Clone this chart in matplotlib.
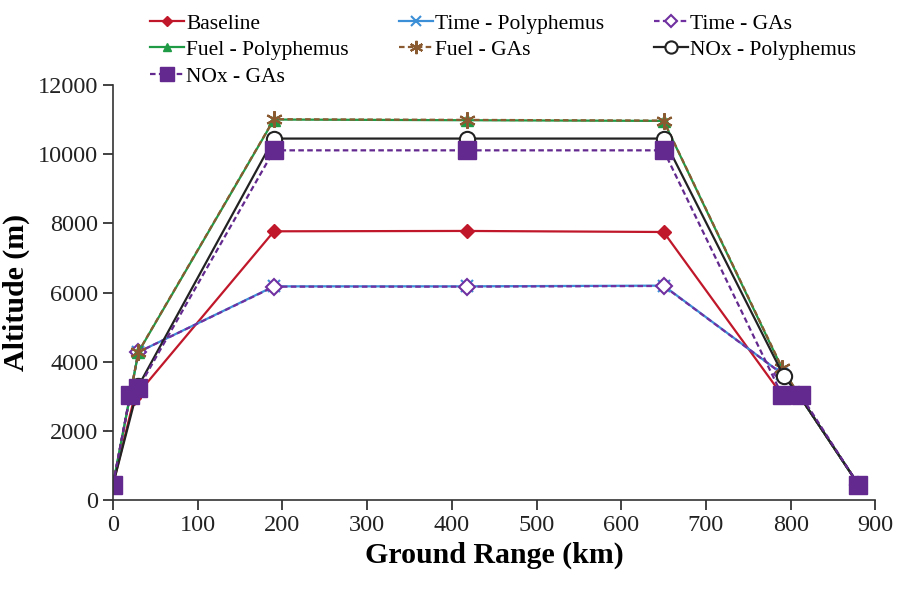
import matplotlib
matplotlib.use("Agg")
import matplotlib.pyplot as plt

# ground range (km) and altitude (m) per trajectory
x_base = [0, 25, 190, 418, 650, 790, 810, 880]
alt_base = [450, 2950, 7770, 7780, 7750, 3030, 3030, 450]

x_time_poly = [0, 30, 190, 418, 650, 790, 810, 880]
alt_time_poly = [450, 4280, 6180, 6180, 6200, 3650, 3030, 450]

x_time_gas = [0, 30, 190, 418, 650, 790, 810, 880]
alt_time_gas = [450, 4280, 6170, 6170, 6190, 3650, 3030, 450]

x_fuel_poly = [0, 30, 190, 418, 650, 790, 810, 880]
alt_fuel_poly = [450, 4280, 11000, 10980, 10960, 3800, 3030, 450]

x_fuel_gas = [0, 30, 190, 418, 650, 790, 810, 880]
alt_fuel_gas = [450, 4290, 11010, 10990, 10970, 3820, 3030, 450]

x_nox_poly = [0, 30, 190, 418, 650, 792, 810, 880]
alt_nox_poly = [450, 3300, 10450, 10450, 10450, 3580, 3030, 450]

x_nox_gas = [0, 20, 30, 190, 418, 650, 790, 812, 880]
alt_nox_gas = [450, 3030, 3240, 10110, 10110, 10110, 3030, 3030, 450]

plt.rcParams["font.family"] = ["Liberation Serif", "DejaVu Serif"]

fig = plt.figure(figsize=(9, 5.94), dpi=100)
ax = fig.add_axes([0.1256, 0.158, 0.847, 0.699])

red = "#c0182a"
blue = "#3b8fd6"
purple = "#7030a0"
green = "#1f9a45"
brown = "#8a5a30"
sq_purple = "#63298e"

h_base, = ax.plot(x_base, alt_base, "-", color=red, lw=1.6, marker="D", ms=7,
                  label="Baseline")
h_tp, = ax.plot(x_time_poly, alt_time_poly, "-", color=blue, lw=1.6, marker="x",
                ms=9, mew=1.5, label="Time - Polyphemus")
h_tg, = ax.plot(x_time_gas, alt_time_gas, "--", color=purple, lw=1.6, marker="D",
                ms=8, mfc="white", mew=1.5, dashes=(2.5, 1.5), label="Time - GAs")
h_fp, = ax.plot(x_fuel_poly, alt_fuel_poly, "-", color=green, lw=1.6, marker="^",
                ms=8, label="Fuel - Polyphemus")
h_fg, = ax.plot(x_fuel_gas, alt_fuel_gas, "--", color=brown, lw=1.6,
                marker=(6, 2, 0), ms=12, mew=1.5, dashes=(2.5, 1.5), label="Fuel - GAs")
h_np, = ax.plot(x_nox_poly, alt_nox_poly, "-", color="#222222", lw=1.6, marker="o",
                ms=11, mfc="white", mew=1.5, label="NOx - Polyphemus")
h_ng, = ax.plot(x_nox_gas, alt_nox_gas, "--", color=sq_purple, lw=1.6, marker="s",
                ms=13, dashes=(2.5, 1.5), label="NOx - GAs")

ax.set_xlim(0, 900)
ax.set_ylim(0, 12000)
ax.set_xticks(range(0, 901, 100))
ax.set_yticks(range(0, 12001, 2000))
ax.spines["top"].set_visible(False)
ax.spines["right"].set_visible(False)
for s in ("left", "bottom"):
    ax.spines[s].set_color("#333333")
    ax.spines[s].set_linewidth(1.2)
ax.tick_params(direction="out", length=7, width=1.2, labelsize=17.5, colors="#222222")
ax.set_xlabel("Ground Range (km)", fontsize=21.5, fontweight="bold", labelpad=4)
ax.set_ylabel("Altitude (m)", fontsize=21.5, fontweight="bold", labelpad=6)

handles = [h_base, h_fp, h_ng, h_tp, h_fg, h_tg, h_np]
fig.legend(handles=handles, labels=[h.get_label() for h in handles], ncol=3,
           loc="upper left", bbox_to_anchor=(0.145, 1.01), frameon=False,
           fontsize=15.5, handlelength=1.6, handletextpad=0.1, columnspacing=2.3,
           labelspacing=0.3, markerscale=0.8)

fig.savefig("out.png", dpi=100)
